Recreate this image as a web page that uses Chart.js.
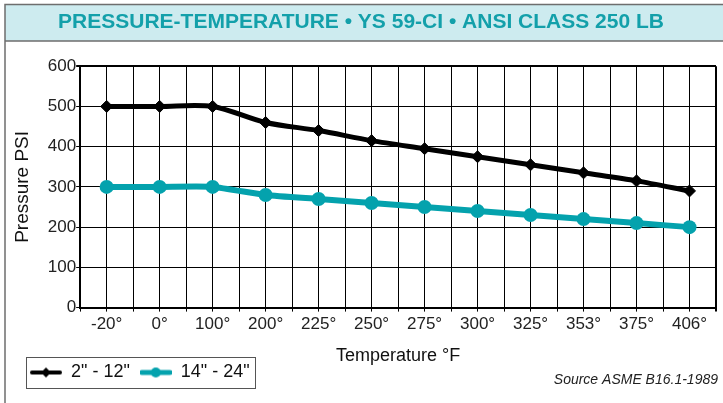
<!DOCTYPE html>
<html>
<head>
<meta charset="utf-8">
<script src="https://cdn.jsdelivr.net/npm/chart.js@4.4.1/dist/chart.umd.min.js"></script>
<style>
  html, body { margin: 0; padding: 0; background: #fff; }
</style>
</head>
<body>
<canvas id="ptChart" width="723" height="403"></canvas>
<script>
// data
const temps = ["-20°", "0°", "100°", "200°", "225°", "250°", "275°", "300°", "325°", "353°", "375°", "406°"];
const small = [500, 500, 500, 460, 440, 415, 395, 375, 355, 335, 315, 290];
const large = [300, 300, 300, 280, 270, 260, 250, 240, 230, 220, 210, 200];
const yTicks = [0, 100, 200, 300, 400, 500, 600];
const seriesNames = ['2" - 12"', '14" - 24"'];

const black = "#000000";
const teal = "#04a2ad";

function legendSymbol(color, shape, lw) {
  const c = document.createElement("canvas");
  c.width = 32; c.height = 14;
  const g = c.getContext("2d");
  g.strokeStyle = color; g.fillStyle = color;
  g.lineWidth = lw; g.lineCap = "round";
  g.beginPath(); g.moveTo(2, 7); g.lineTo(30, 7); g.stroke();
  g.beginPath();
  if (shape === "diamond") {
    g.moveTo(16, 2); g.lineTo(21, 7); g.lineTo(16, 12); g.lineTo(11, 7); g.closePath();
  } else {
    g.arc(16, 7, 5, 0, Math.PI * 2);
  }
  g.fill();
  return c;
}
const symbols = [legendSymbol(black, "diamond", 4), legendSymbol(teal, "circle", 5)];

const frame = {
  id: "frame",
  beforeDraw(chart) {
    const ctx = chart.ctx;
    ctx.save();
    ctx.fillStyle = "#cdebef";
    ctx.fillRect(5, 4, 718, 37);
    ctx.strokeStyle = "#6e6e6e";
    ctx.lineWidth = 1.5;
    ctx.beginPath();
    ctx.moveTo(5, 403); ctx.lineTo(5, 4.5); ctx.lineTo(723, 4.5);
    ctx.moveTo(5, 41); ctx.lineTo(723, 41);
    ctx.stroke();
    ctx.restore();
  },
  afterLayout(chart) {
    // move the legend up beside the axis title, like the original
    const lg = chart.legend;
    const h = lg.bottom - lg.top;
    lg.top = 353.5; lg.bottom = lg.top + h;
    const w = lg.right - lg.left;
    lg.left = 20; lg.right = lg.left + w;
  },
  afterDraw(chart) {
    const ctx = chart.ctx;
    const hb = chart.legend.legendHitBoxes;
    ctx.save();
    if (hb && hb.length) {
      const last = hb[hb.length - 1];
      const x0 = hb[0].left - 4, x1 = last.left + last.width + 5;
      const y0 = hb[0].top - 7, y1 = hb[0].top + hb[0].height + 6;
      ctx.strokeStyle = "#555";
      ctx.lineWidth = 1;
      ctx.strokeRect(Math.round(x0) + 0.5, Math.round(y0) + 0.5, Math.round(x1 - x0), Math.round(y1 - y0));
    }
    ctx.fillStyle = "#222";
    ctx.font = "italic 14px 'Liberation Sans', Arial, sans-serif";
    ctx.textAlign = "right";
    ctx.textBaseline = "middle";
    ctx.fillText("Source ASME B16.1-1989", 718, 380);
    ctx.restore();
  }
};

new Chart(document.getElementById("ptChart"), {
  type: "line",
  data: {
    datasets: [{
      label: seriesNames[0],
      data: small.map((v, i) => ({ x: i, y: v })),
      borderColor: black,
      backgroundColor: black,
      borderWidth: 5,
      tension: 0.3,
      pointStyle: "rectRot",
      pointRadius: 6,
      pointBorderWidth: 1,
    }, {
      label: seriesNames[1],
      data: large.map((v, i) => ({ x: i, y: v })),
      borderColor: teal,
      backgroundColor: teal,
      borderWidth: 6,
      tension: 0.2,
      pointStyle: "circle",
      pointRadius: 7,
      pointBorderWidth: 0,
    }],
  },
  options: {
    responsive: false,
    animation: false,
    layout: { padding: { left: 5, right: 6, top: 0, bottom: 0 } },
    plugins: {
      tooltip: { enabled: false },
      title: {
        display: true,
        text: "PRESSURE-TEMPERATURE • YS 59-CI • ANSI CLASS 250 LB",
        color: "#13a0aa",
        font: { family: "'Liberation Sans Narrow', 'Liberation Sans', Arial", size: 21, weight: "bold" },
        padding: { top: 10, bottom: 31 },
      },
      legend: {
        position: "bottom",
        align: "start",
        labels: {
          usePointStyle: true,
          pointStyleWidth: 32,
          padding: 10,
          color: "#111",
          font: { family: "'Liberation Sans', Arial", size: 18 },
          generateLabels(chart) {
            return Chart.defaults.plugins.legend.labels.generateLabels(chart)
              .map((l, i) => ({ ...l, pointStyle: symbols[i] }));
          },
        },
      },
    },
    scales: {
      x: {
        type: "linear",
        min: -0.5,
        max: temps.length - 0.5,
        border: { color: black, width: 2 },
        grid: {
          color: black,
          lineWidth: (c) => (c.tick && c.tick.value === temps.length - 0.5 ? 2 : 1),
          tickLength: 4,
          tickColor: black,
        },
        ticks: {
          stepSize: 0.5,
          autoSkip: false,
          maxRotation: 0,
          minRotation: 0,
          padding: 3,
          color: "#222",
          font: { family: "'Liberation Sans', Arial", size: 17 },
          callback: (v) => (Number.isInteger(v) ? temps[v] : ""),
        },
        title: {
          display: true,
          text: "Temperature °F",
          color: "#111",
          font: { family: "'Liberation Sans', Arial", size: 18, lineHeight: 1.0 },
          padding: { top: 9, bottom: 0 },
        },
      },
      y: {
        min: yTicks[0],
        max: yTicks[yTicks.length - 1],
        border: { color: black, width: 2 },
        grid: {
          color: black,
          lineWidth: (c) => (c.tick && c.tick.value === yTicks[yTicks.length - 1] ? 2 : 1),
          tickLength: 4,
          tickColor: black,
        },
        ticks: {
          stepSize: yTicks[1] - yTicks[0],
          padding: 0,
          color: "#222",
          font: { family: "'Liberation Sans', Arial", size: 17 },
        },
        title: {
          display: true,
          text: "Pressure PSI",
          color: "#111",
          font: { family: "'Liberation Sans', Arial", size: 19 },
          padding: { top: 6, bottom: 14 },
        },
      },
    },
  },
  plugins: [frame],
});
</script>
</body>
</html>
